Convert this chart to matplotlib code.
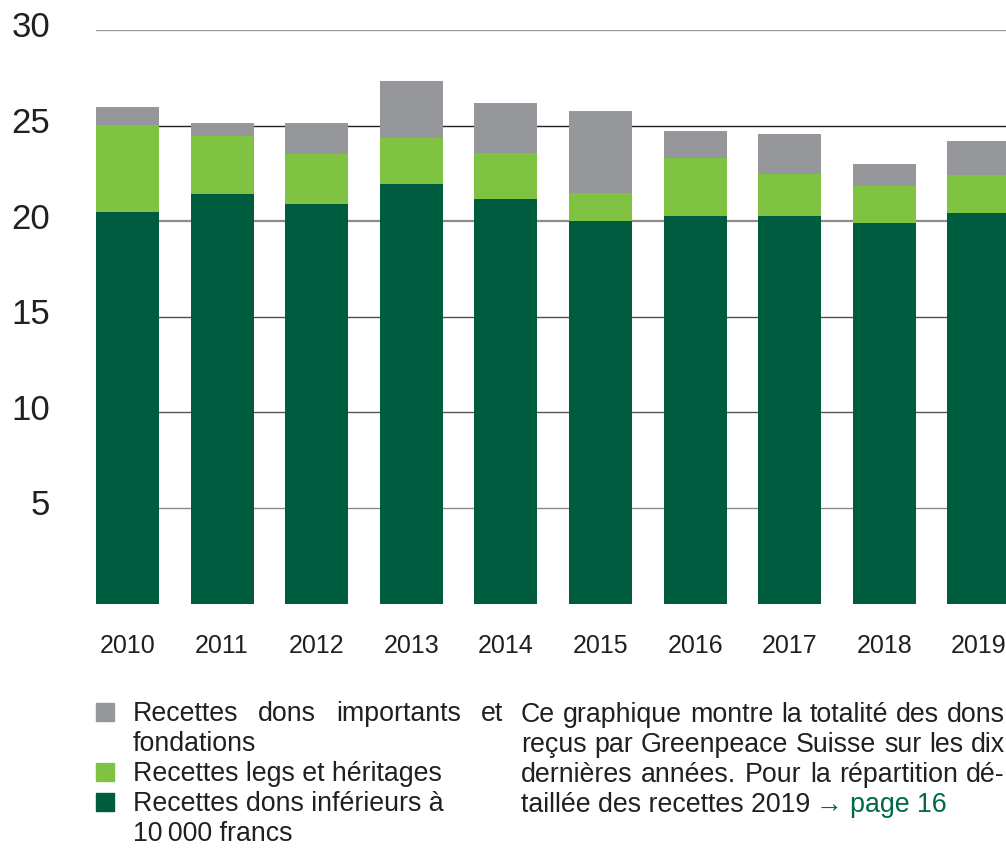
import matplotlib
matplotlib.use("Agg")
import matplotlib.pyplot as plt
from matplotlib.transforms import ScaledTranslation
import numpy as np

years = ["2010", "2011", "2012", "2013", "2014", "2015", "2016", "2017", "2018", "2019"]
# stacked segments (millions CHF)
small_donations = [20.47, 21.41, 20.89, 21.93, 21.15, 20.00, 20.26, 20.26, 19.90, 20.42]
legacies = [4.55, 3.03, 2.61, 2.41, 2.40, 1.46, 3.04, 2.19, 1.93, 1.98]
major_donations = [0.94, 0.68, 1.62, 2.98, 2.65, 4.29, 1.40, 2.10, 1.15, 1.78]

y_ticks = [5, 10, 15, 20, 25, 30]
legend_lines = [["Recettes dons importants et", "fondations"],
                ["Recettes legs et héritages"],
                ["Recettes dons inférieurs à", "10\u2009000 francs"]]
para_lines = ["Ce graphique montre la totalité des dons",
              "reçus par Greenpeace Suisse sur les dix",
              "dernières années. Pour la répartition dé-",
              "taillée des recettes 2019"]
link_text = "\u2192 page 16"

C_DARK = "#005c3f"
C_LIGHT = "#80c242"
C_GRAY = "#96979b"
C_TEXT = "#231f20"
C_LINK = "#00694a"

plt.rcParams['font.family'] = ['Liberation Sans', 'DejaVu Sans']

W, H = 1006, 851
fig = plt.figure(figsize=(W / 100, H / 100), dpi=100)
ax = fig.add_axes([96 / W, (H - 603.6) / H, 1 - 96 / W, (603.6 - 30) / H])

x = np.arange(len(years))
w = 0.666
b1 = np.array(small_donations)
b2 = b1 + np.array(legacies)
ax.bar(x, small_donations, w, color=C_DARK, zorder=3)
ax.bar(x, legacies, w, bottom=b1, color=C_LIGHT, zorder=3)
ax.bar(x, major_donations, w, bottom=b2, color=C_GRAY, zorder=3)

grid_styles = {5: ("#8a8a8a", 1.0), 10: ("#555555", 1.0), 15: ("#4d4d4d", 1.0),
               20: ("#8c8c8c", 1.6), 25: ("#231f20", 1.0), 30: ("#9a9a9a", 1.0)}
for v in y_ticks:
    c, lw = grid_styles[v]
    ax.axhline(v, color=c, lw=lw, zorder=1)

ax.set_xlim(-0.333, 9.287)
ax.set_ylim(0, 30)
for s in ax.spines.values():
    s.set_visible(False)
ax.set_yticks(y_ticks)
ax.set_yticklabels([str(v) for v in y_ticks], fontsize=25, color=C_TEXT)
ax.tick_params(axis='y', length=0, pad=33)
ax.set_xticks(x)
ax.set_xticklabels(years, fontsize=18, color=C_TEXT)
ax.tick_params(axis='x', length=0, pad=22)
for lab in ax.get_yticklabels():
    lab.set_transform(lab.get_transform() + ScaledTranslation(0, 4 / 72, fig.dpi_scale_trans))

FS = 19.3


def fy(py):
    return 1 - py / H


def fx(px):
    return px / W


fig.canvas.draw()
renderer = fig.canvas.get_renderer()


def put_line(text, left_px, base_px, right_px=None, color=C_TEXT):
    """Draw one line of text on a baseline; justify it between left and right if given."""
    if right_px is None:
        return fig.text(fx(left_px), fy(base_px), text, fontsize=FS, color=color,
                        va='baseline', ha='left')
    words = text.split(" ")
    arts = [fig.text(0, fy(base_px), wd, fontsize=FS, color=color, va='baseline', ha='left')
            for wd in words]
    widths = [a.get_window_extent(renderer).width for a in arts]
    gap = (right_px - left_px - sum(widths)) / max(len(words) - 1, 1)
    pos = left_px
    for a, wdt in zip(arts, widths):
        a.set_x(fx(pos))
        pos += wdt + gap
    return arts[-1]


# legend
sq = 18
legend_colors = [C_GRAY, C_LIGHT, C_DARK]
base = 721
row = 0
for col, lines in zip(legend_colors, legend_lines):
    b = base + 30 * row
    fig.patches.append(plt.Rectangle((fx(96), fy(b)), sq / W, sq / H,
                                     transform=fig.transFigure, color=col))
    for j, ln in enumerate(lines):
        right = 503 if (row == 0 and j == 0) else None
        put_line(ln, 133, b + 30 * j, right)
    row += len(lines)

# explanatory paragraph
pbase = 722
last = None
for i, ln in enumerate(para_lines):
    right = 1005 if i < 3 else None
    last = put_line(ln, 521, pbase + 30 * i, right)
bb = last.get_window_extent(renderer)
fig.text((bb.x1 + 6) / W, fy(pbase + 90), link_text, fontsize=FS, color=C_LINK,
         va='baseline', ha='left')

fig.savefig("out.png", dpi=100)
